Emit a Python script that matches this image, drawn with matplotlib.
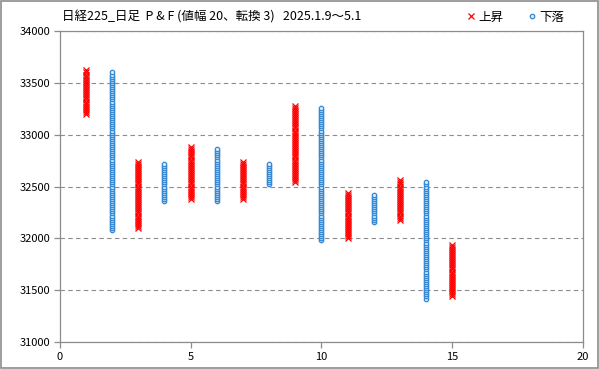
import numpy as np
import matplotlib
matplotlib.use('Agg')
import matplotlib.pyplot as plt

plt.rcParams['font.family'] = ['Noto Sans CJK JP', 'DejaVu Sans']

# P&F columns: 値幅 20, 転換 3
box = 20
col_no = [1, 2, 3, 4, 5, 6, 7, 8, 9, 10, 11, 12, 13, 14, 15]
col_dir = ['up', 'down', 'up', 'down', 'up', 'down', 'up', 'down',
           'up', 'down', 'up', 'down', 'up', 'down', 'up']
col_low = [33200, 32080, 32100, 32360, 32380, 32360, 32380, 32520,
           32540, 31980, 32000, 32160, 32180, 31420, 31440]
col_high = [33620, 33600, 32740, 32720, 32880, 32860, 32740, 32720,
            33280, 33260, 32440, 32420, 32560, 32540, 31940]

title = '日経225_日足  P & F (値幅 20、転換 3)   2025.1.9〜5.1'


def get_fig():
    fig = plt.figure(figsize=(5.99, 3.69), dpi=100)
    ax = fig.add_axes([0.1, 0.073, 0.873, 0.843])

    up_x, up_y, dn_x, dn_y = [], [], [], []
    for c, d, lo, hi in zip(col_no, col_dir, col_low, col_high):
        ys = np.arange(lo, hi + box, box)
        if d == 'up':
            up_x += [c] * len(ys)
            up_y += list(ys)
        else:
            dn_x += [c] * len(ys)
            dn_y += list(ys)

    ax.plot(up_x, up_y, ls='none', marker='x', ms=4.3, mew=0.9,
            color='#ff0000', label='上昇', zorder=3)
    ax.plot(dn_x, dn_y, ls='none', marker='o', ms=3.2, mew=0.9,
            mec='#3488d4', mfc='#d6ecfb', label='下落', zorder=3)

    ax.set_xlim(0, 20)
    ax.set_ylim(31000, 34000)
    ax.set_xticks([0, 5, 10, 15, 20])
    ax.set_yticks(np.arange(31000, 34001, 500))
    ax.grid(axis='y', ls=(0, (4, 3)), color='#8c8c8c', lw=0.8)
    ax.set_axisbelow(True)
    for s in ax.spines.values():
        s.set_color('#8c8c8c')
        s.set_linewidth(0.9)
    ax.tick_params(labelsize=8, length=4, color='#8c8c8c', width=0.9,
                   pad=3)

    fig.text(0.103, 0.953, title, fontsize=9, va='center', ha='left')
    h, l = ax.get_legend_handles_labels()
    fig.legend(h, l, loc='center right', bbox_to_anchor=(0.955, 0.953),
               ncol=2, frameon=False, fontsize=9, handlelength=0.6,
               handletextpad=0.3, columnspacing=2.0, borderpad=0.1)

    fig.patches.append(plt.Rectangle((0.001, 0.002), 0.997, 0.995,
                                     transform=fig.transFigure, fill=False,
                                     edgecolor='#8c8c8c', lw=1.2))
    return fig


if __name__ == "__main__":
    fig = get_fig()
    fig.savefig("out.png", dpi=100)
